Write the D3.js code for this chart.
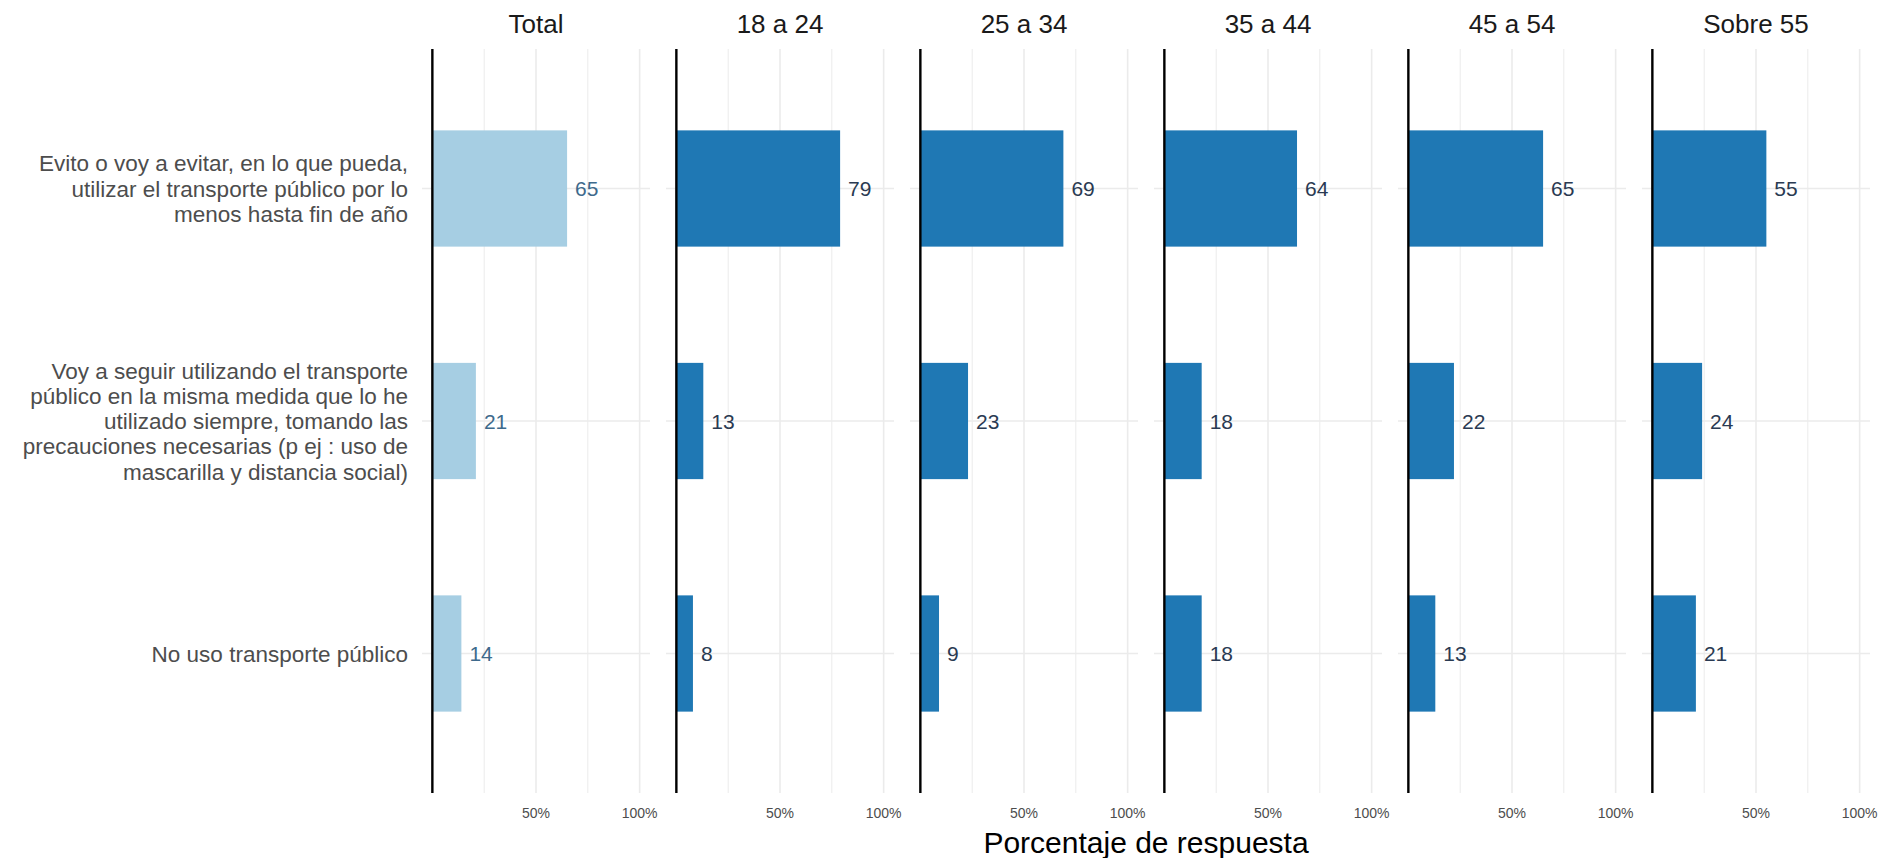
<!DOCTYPE html>
<html>
<head>
<meta charset="utf-8">
<script src="https://cdn.jsdelivr.net/npm/d3@7"></script>
<style>
  html, body { margin: 0; padding: 0; background: #ffffff; }
  svg { display: block; font-family: "Liberation Sans", Arial, Helvetica, sans-serif; }
</style>
</head>
<body>
<svg id="chart" width="1883" height="858"></svg>
<script>
// ---- data ----
const groups = ["Total", "18 a 24", "25 a 34", "35 a 44", "45 a 54", "Sobre 55"];
const categories = [
  "Evito o voy a evitar, en lo que pueda, utilizar el transporte público por lo menos hasta fin de año",
  "Voy a seguir utilizando el transporte público en la misma medida que lo he utilizado siempre, tomando las precauciones necesarias (p ej : uso de mascarilla y distancia social)",
  "No uso transporte público"
];
const categoryLines = [
  ["Evito o voy a evitar, en lo que pueda,", "utilizar el transporte público por lo", "menos hasta fin de año"],
  ["Voy a seguir utilizando el transporte", "público en la misma medida que lo he", "utilizado siempre, tomando las", "precauciones necesarias (p ej : uso de", "mascarilla y distancia social)"],
  ["No uso transporte público"]
];
const valuesTotal = [65, 21, 14];
const values18_24 = [79, 13, 8];
const values25_34 = [69, 23, 9];
const values35_44 = [64, 18, 18];
const values45_54 = [65, 22, 13];
const valuesSobre55 = [55, 24, 21];
const seriesValues = [valuesTotal, values18_24, values25_34, values35_44, values45_54, valuesSobre55];
const gridBreaks = [0, 25, 50, 75, 100];
const tickBreaks = [50, 100];
const tickLabels = ["50%", "100%"];
const xTitle = "Porcentaje de respuesta";

// ---- layout ----
const svg = d3.select("#chart");
const panelTop = 49, panelBottom = 793;
const firstPanelLeft = 422, panelWidth = 228, panelStep = 244;

const y = d3.scalePoint().domain(categories).range([panelTop, panelBottom]).padding(0.6);
const step = y.step();
const barH = step * 0.5;

const panelX = d3.scaleBand().domain(groups).range([firstPanelLeft, firstPanelLeft + panelStep * groups.length]).paddingInner(0).paddingOuter(0);

groups.forEach((g, gi) => {
  const left = panelX(g);
  const x = d3.scaleLinear().domain([-5, 105]).range([left, left + panelWidth]);
  const p = svg.append("g");

  // vertical gridlines
  p.selectAll("line.vg").data(gridBreaks).join("line")
    .attr("x1", d => x(d)).attr("x2", d => x(d))
    .attr("y1", panelTop).attr("y2", panelBottom)
    .attr("stroke", "#ebebeb").attr("stroke-width", d => (d % 50 === 0 ? 1.6 : 1.0));

  // horizontal gridlines
  p.selectAll("line.hg").data(categories).join("line")
    .attr("x1", x(-5)).attr("x2", x(105))
    .attr("y1", d => y(d)).attr("y2", d => y(d))
    .attr("stroke", "#ebebeb").attr("stroke-width", 1.6);

  const vals = seriesValues[gi];
  const isTotal = gi === 0;

  // bars
  p.selectAll("rect").data(categories).join("rect")
    .attr("x", x(0))
    .attr("y", d => y(d) - barH / 2)
    .attr("width", (d, i) => x(vals[i]) - x(0))
    .attr("height", barH)
    .attr("fill", isTotal ? "#a6cee3" : "#1f78b4");

  // value labels
  p.selectAll("text.val").data(categories).join("text")
    .attr("x", (d, i) => x(vals[i]) + 8)
    .attr("y", d => y(d))
    .attr("dy", "0.36em")
    .attr("font-size", 21)
    .attr("fill", isTotal ? "#3e6a8c" : "#2a3a52")
    .text((d, i) => vals[i]);

  // zero line
  p.append("line")
    .attr("x1", x(0)).attr("x2", x(0))
    .attr("y1", panelTop).attr("y2", panelBottom)
    .attr("stroke", "#000").attr("stroke-width", 2.4);

  // facet title
  p.append("text")
    .attr("x", (x(-5) + x(105)) / 2)
    .attr("y", 33)
    .attr("text-anchor", "middle")
    .attr("font-size", 26)
    .attr("fill", "#1a1a1a")
    .text(g);

  // tick labels
  p.selectAll("text.tick").data(tickBreaks).join("text")
    .attr("x", d => x(d))
    .attr("y", 818)
    .attr("text-anchor", "middle")
    .attr("font-size", 14)
    .attr("fill", "#4d4d4d")
    .text((d, i) => tickLabels[i]);
});

// category labels
const lineGap = 25.2;
categories.forEach((c, ci) => {
  const lines = categoryLines[ci];
  const cy = y(c);
  const t = svg.append("text")
    .attr("text-anchor", "end")
    .attr("font-size", 22.5)
    .attr("fill", "#4d4d4d");
  lines.forEach((ln, li) => {
    t.append("tspan")
      .attr("x", 408)
      .attr("y", cy + (li - (lines.length - 1) / 2) * lineGap)
      .attr("dy", "0.36em")
      .text(ln);
  });
});

// x title
svg.append("text")
  .attr("x", (firstPanelLeft + panelX(groups[groups.length - 1]) + panelWidth) / 2)
  .attr("y", 853)
  .attr("text-anchor", "middle")
  .attr("font-size", 30)
  .attr("fill", "#000")
  .text(xTitle);
</script>
</body>
</html>
